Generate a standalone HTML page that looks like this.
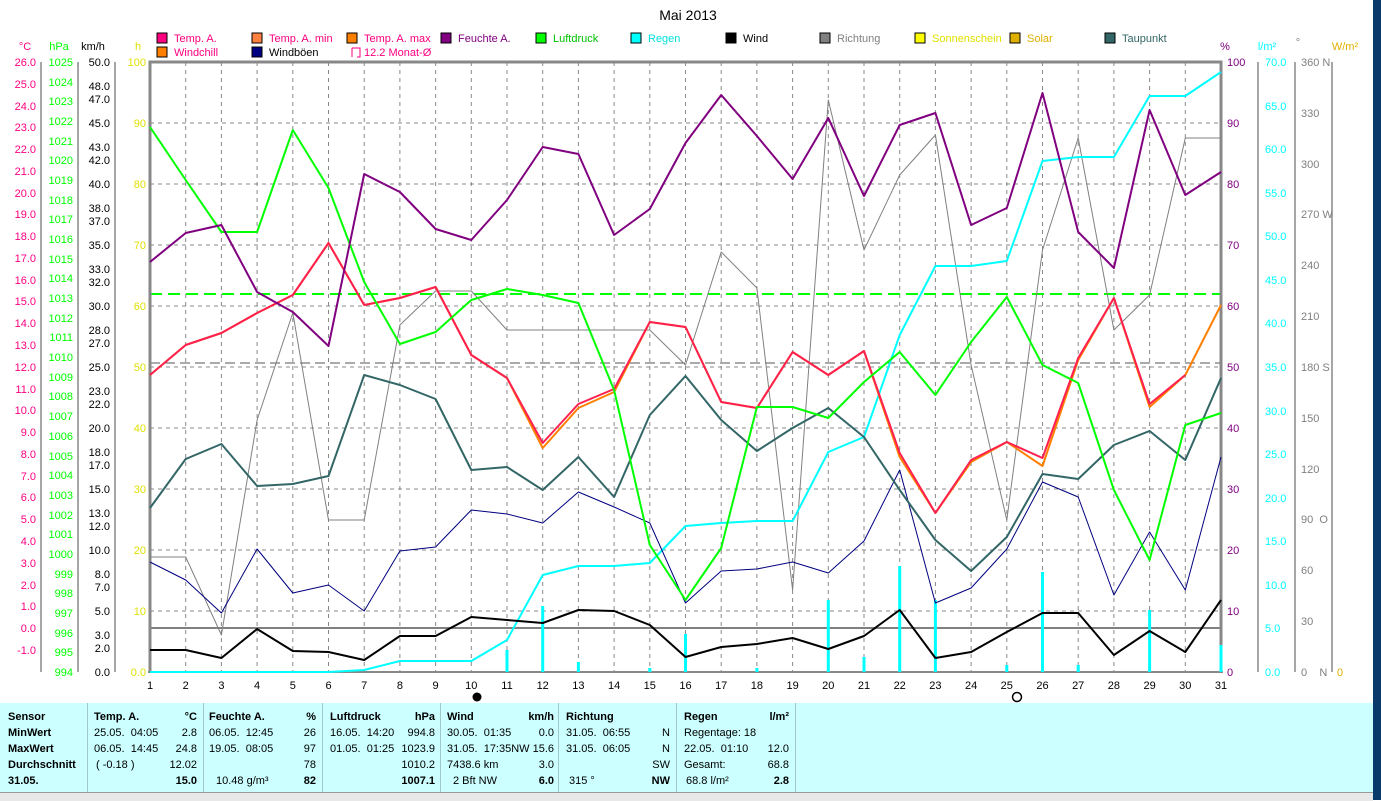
<!DOCTYPE html>
<html><head><meta charset="utf-8"><style>
html,body{margin:0;padding:0;background:#fff;}
body{width:1381px;height:800px;overflow:hidden;position:relative;font-family:"Liberation Sans",sans-serif;}
svg text{font-family:"Liberation Sans",sans-serif;font-size:11px;}
#panel{position:absolute;left:0;top:703px;width:1373px;height:89px;background:#ccffff;}
#panel .col{position:absolute;top:0;height:89px;border-right:1px solid #a0c8c8;font-size:11px;}
#panel .r{position:absolute;white-space:nowrap;}
.b{font-weight:bold;}
</style></head><body>
<svg width="1381" height="800" style="position:absolute;left:0;top:0">
<rect x="1373" y="0" width="8" height="800" fill="#0a3a6a"/>
<text x="688" y="20" text-anchor="middle" style="font-size:14px">Mai 2013</text>
<!-- legend -->
<g>
<rect x="157" y="33" width="10" height="10" fill="#ff0080" stroke="#000"/><text x="174" y="42" fill="#ff0080">Temp. A.</text>
<rect x="252" y="33" width="10" height="10" fill="#ff8040" stroke="#000"/><text x="269" y="42" fill="#ff0080">Temp. A. min</text>
<rect x="347" y="33" width="10" height="10" fill="#ff8000" stroke="#000"/><text x="364" y="42" fill="#ff0080">Temp. A. max</text>
<rect x="441" y="33" width="10" height="10" fill="#800080" stroke="#000"/><text x="458" y="42" fill="#800080">Feuchte A.</text>
<rect x="536" y="33" width="10" height="10" fill="#00ff00" stroke="#000"/><text x="553" y="42" fill="#00c000">Luftdruck</text>
<rect x="631" y="33" width="10" height="10" fill="#00ffff" stroke="#000"/><text x="648" y="42" fill="#00e0e0">Regen</text>
<rect x="726" y="33" width="10" height="10" fill="#000" stroke="#000"/><text x="743" y="42" fill="#000">Wind</text>
<rect x="820" y="33" width="10" height="10" fill="#808080" stroke="#000"/><text x="837" y="42" fill="#808080">Richtung</text>
<rect x="915" y="33" width="10" height="10" fill="#ffff00" stroke="#000"/><text x="932" y="42" fill="#e0e000">Sonnenschein</text>
<rect x="1010" y="33" width="10" height="10" fill="#e0b000" stroke="#000"/><text x="1027" y="42" fill="#e0b000">Solar</text>
<rect x="1105" y="33" width="10" height="10" fill="#336666" stroke="#000"/><text x="1122" y="42" fill="#336666">Taupunkt</text>
<rect x="157" y="47" width="10" height="10" fill="#ff8000" stroke="#000"/><text x="174" y="56" fill="#ff0080">Windchill</text>
<rect x="252" y="47" width="10" height="10" fill="#000080" stroke="#000"/><text x="269" y="56" fill="#000">Windböen</text>
<path d="M352 48 h8 v9 h-3 M352 48 v9" fill="none" stroke="#ff0080"/><text x="364" y="56" fill="#ff0080">12.2 Monat-Ø</text>
</g>
<!-- axis headers -->
<text x="25" y="50" text-anchor="middle" fill="#ff0080">°C</text>
<text x="59" y="50" text-anchor="middle" fill="#00ff00">hPa</text>
<text x="93" y="50" text-anchor="middle" fill="#000">km/h</text>
<text x="138" y="50" text-anchor="middle" fill="#e0e000">h</text>
<text x="1225" y="50" text-anchor="middle" fill="#800080">%</text>
<text x="1267" y="50" text-anchor="middle" fill="#00ffff">l/m²</text>
<text x="1298" y="46" text-anchor="middle" fill="#808080">°</text>
<text x="1345" y="50" text-anchor="middle" fill="#e0b000">W/m²</text>
<!-- grid -->
<g stroke="#888" stroke-dasharray="4,4" stroke-width="1">
<path d="M150 123H1221M150 184H1221M150 245H1221M150 306H1221M150 367H1221M150 428H1221M150 489H1221M150 550H1221M150 611H1221"/>
<path d="M185.7 62V672M221.4 62V672M257.1 62V672M292.8 62V672M328.5 62V672M364.2 62V672M399.9 62V672M435.6 62V672M471.3 62V672M507 62V672M542.7 62V672M578.4 62V672M614.1 62V672M649.8 62V672M685.5 62V672M721.2 62V672M756.9 62V672M792.6 62V672M828.3 62V672M864 62V672M899.7 62V672M935.4 62V672M971.1 62V672M1006.8 62V672M1042.5 62V672M1078.2 62V672M1113.9 62V672M1149.6 62V672M1185.3 62V672"/>
</g>
<line x1="150" y1="294" x2="1221" y2="294" stroke="#00ff00" stroke-width="2" stroke-dasharray="12,6"/>
<line x1="150" y1="363" x2="1221" y2="363" stroke="#555" stroke-width="1" stroke-dasharray="10,5"/>
<line x1="150" y1="628" x2="1221" y2="628" stroke="#808080" stroke-width="2"/>
<!-- frame -->
<path d="M150 672V62H1221V672" fill="none" stroke="#888" stroke-width="3"/>
<line x1="148" y1="672" x2="1223" y2="672" stroke="#888" stroke-width="2"/>
<!-- left axes -->
<g stroke="#888" stroke-width="1.5"><path d="M41 62V672M78 62V672M115 62V672M1258 62V672M1295 62V672M1332 62V672"/></g>
<!-- rain bars -->
<g stroke="#00ffff" stroke-width="3">
<path d="M507 672V650M542.7 672V606M578.4 672V662M649.8 672V668M685.5 672V634M756.9 672V668M828.3 672V600M864 672V657M899.7 672V566M935.4 672V600M1006.8 672V665M1042.5 672V572M1078.2 672V665M1149.6 672V610M1221 672V645"/>
</g>
<g fill="none" stroke-linejoin="round" transform="translate(150,0) scale(35.7,1)">
<polyline vector-effect="non-scaling-stroke" stroke="#808080" stroke-width="1" points="0,557 1,557 2,635 3,420 4,313 5,520 6,520 7,325 8,291 9,291 10,330 11,330 12,330 13,330 14,330 15,365 16,252 17,288 18,590 19,100 20,250 21,175 22,135 23,365 24,520 25,250 26,138 27,330 28,295 29,138 30,138"/>
<polyline vector-effect="non-scaling-stroke" stroke="#00ffff" stroke-width="2" points="0,672 5,672 6,670 7,661 8,661 9,661 10,640 11,575 12,566 13,566 14,563 15,526 16,523 17,521 18,521 19,452 20,437 21,335 22,266 23,266 24,261 25,161 26,157 27,157 28,96 29,96 30,72"/>
<polyline vector-effect="non-scaling-stroke" stroke="#000080" stroke-width="1" points="0,562 1,580 2,613 3,549 4,593 5,585 6,611 7,551 8,547 9,510 10,514 11,523 12,492 13,507 14,523 15,603 16,571 17,569 18,562 19,573 20,541 21,470 22,603 23,588 24,549 25,482 26,497 27,595 28,532 29,590 30,457"/>
<polyline vector-effect="non-scaling-stroke" stroke="#000" stroke-width="2" points="0,650 1,650 2,658 3,629 4,651 5,652 6,660 7,636 8,636 9,617 10,620 11,623 12,610 13,611 14,625 15,657 16,647 17,644 18,638 19,649 20,636 21,610 22,658 23,652 24,632 25,613 26,613 27,655 28,631 29,652 30,600"/>
<polyline vector-effect="non-scaling-stroke" stroke="#336666" stroke-width="2" points="0,508 1,459 2,444 3,486 4,484 5,476 6,375 7,385 8,399 9,470 10,467 11,490 12,457 13,497 14,415 15,376 16,420 17,451 18,428 19,408 20,437 21,490 22,540 23,571 24,537 25,474 26,479 27,445 28,431 29,460 30,378"/>
<polyline vector-effect="non-scaling-stroke" stroke="#ff8000" stroke-width="2" points="0,375 1,345 2,333 3,313 4,295 5,243 6,305 7,298 8,287 9,355 10,378 11,448 12,408 13,392 14,322 15,327 16,402 17,408 18,352 19,375 20,351 21,457 22,513 23,462 24,442 25,466 26,360 27,298 28,407 29,375 30,305"/>
<polyline vector-effect="non-scaling-stroke" stroke="#ff2050" stroke-width="2" points="0,375 1,345 2,333 3,313 4,295 5,243 6,305 7,298 8,287 9,355 10,378 11,443 12,404 13,389 14,322 15,327 16,402 17,408 18,352 19,375 20,351 21,453 22,513 23,460 24,442 25,458 26,358 27,298 28,404 29,375"/>
<polyline vector-effect="non-scaling-stroke" stroke="#00ff00" stroke-width="2" points="0,127 1,180 2,232 3,232 4,130 5,188 6,282 7,344 8,332 9,300 10,289 11,295 12,303 13,390 14,545 15,600 16,548 17,407 18,407 19,418 20,382 21,352 22,395 23,342 24,297 25,365 26,383 27,490 28,560 29,425 30,413"/>
<polyline vector-effect="non-scaling-stroke" stroke="#800080" stroke-width="2" points="0,262 1,233 2,225 3,292 4,312 5,346 6,174 7,192 8,229 9,240 10,200 11,147 12,154 13,235 14,209 15,143 16,95 17,136 18,179 19,118 20,196 21,125 22,113 23,225 24,208 25,93 26,232 27,268 28,110 29,195 30,172"/>
</g>
<!-- x labels -->
<g text-anchor="middle" fill="#000">
<text x="150" y="689">1</text><text x="185.7" y="689">2</text><text x="221.4" y="689">3</text><text x="257.1" y="689">4</text><text x="292.8" y="689">5</text><text x="328.5" y="689">6</text><text x="364.2" y="689">7</text><text x="399.9" y="689">8</text><text x="435.6" y="689">9</text><text x="471.3" y="689">10</text><text x="507" y="689">11</text><text x="542.7" y="689">12</text><text x="578.4" y="689">13</text><text x="614.1" y="689">14</text><text x="649.8" y="689">15</text><text x="685.5" y="689">16</text><text x="721.2" y="689">17</text><text x="756.9" y="689">18</text><text x="792.6" y="689">19</text><text x="828.3" y="689">20</text><text x="864" y="689">21</text><text x="899.7" y="689">22</text><text x="935.4" y="689">23</text><text x="971.1" y="689">24</text><text x="1006.8" y="689">25</text><text x="1042.5" y="689">26</text><text x="1078.2" y="689">27</text><text x="1113.9" y="689">28</text><text x="1149.6" y="689">29</text><text x="1185.3" y="689">30</text><text x="1221" y="689">31</text>
</g>
<circle cx="477" cy="697" r="4.5" fill="#000"/>
<circle cx="1017" cy="697" r="4.5" fill="none" stroke="#000" stroke-width="1.5"/>
<!-- °C -->
<g text-anchor="end" fill="#ff0080">
<text x="36" y="66">26.0</text><text x="36" y="88">25.0</text><text x="36" y="110">24.0</text><text x="36" y="131">23.0</text><text x="36" y="153">22.0</text><text x="36" y="175">21.0</text><text x="36" y="197">20.0</text><text x="36" y="218">19.0</text><text x="36" y="240">18.0</text><text x="36" y="262">17.0</text><text x="36" y="284">16.0</text><text x="36" y="305">15.0</text><text x="36" y="327">14.0</text><text x="36" y="349">13.0</text><text x="36" y="371">12.0</text><text x="36" y="393">11.0</text><text x="36" y="414">10.0</text><text x="36" y="436">9.0</text><text x="36" y="458">8.0</text><text x="36" y="480">7.0</text><text x="36" y="501">6.0</text><text x="36" y="523">5.0</text><text x="36" y="545">4.0</text><text x="36" y="567">3.0</text><text x="36" y="589">2.0</text><text x="36" y="610">1.0</text><text x="36" y="632">0.0</text><text x="36" y="654">-1.0</text>
</g>
<!-- hPa -->
<g text-anchor="end" fill="#00ff00">
<text x="73" y="66">1025</text><text x="73" y="86">1024</text><text x="73" y="105">1023</text><text x="73" y="125">1022</text><text x="73" y="145">1021</text><text x="73" y="164">1020</text><text x="73" y="184">1019</text><text x="73" y="204">1018</text><text x="73" y="223">1017</text><text x="73" y="243">1016</text><text x="73" y="263">1015</text><text x="73" y="282">1014</text><text x="73" y="302">1013</text><text x="73" y="322">1012</text><text x="73" y="341">1011</text><text x="73" y="361">1010</text><text x="73" y="381">1009</text><text x="73" y="400">1008</text><text x="73" y="420">1007</text><text x="73" y="440">1006</text><text x="73" y="460">1005</text><text x="73" y="479">1004</text><text x="73" y="499">1003</text><text x="73" y="519">1002</text><text x="73" y="538">1001</text><text x="73" y="558">1000</text><text x="73" y="578">999</text><text x="73" y="597">998</text><text x="73" y="617">997</text><text x="73" y="637">996</text><text x="73" y="656">995</text><text x="73" y="676">994</text>
</g>
<!-- km/h -->
<g text-anchor="end" fill="#000">
<text x="110" y="66">50.0</text><text x="110" y="90">48.0</text><text x="110" y="103">47.0</text><text x="110" y="127">45.0</text><text x="110" y="151">43.0</text><text x="110" y="164">42.0</text><text x="110" y="188">40.0</text><text x="110" y="212">38.0</text><text x="110" y="225">37.0</text><text x="110" y="249">35.0</text><text x="110" y="273">33.0</text><text x="110" y="286">32.0</text><text x="110" y="310">30.0</text><text x="110" y="334">28.0</text><text x="110" y="347">27.0</text><text x="110" y="371">25.0</text><text x="110" y="395">23.0</text><text x="110" y="408">22.0</text><text x="110" y="432">20.0</text><text x="110" y="456">18.0</text><text x="110" y="469">17.0</text><text x="110" y="493">15.0</text><text x="110" y="517">13.0</text><text x="110" y="530">12.0</text><text x="110" y="554">10.0</text><text x="110" y="578">8.0</text><text x="110" y="591">7.0</text><text x="110" y="615">5.0</text><text x="110" y="639">3.0</text><text x="110" y="652">2.0</text><text x="110" y="676">0.0</text>
</g>
<!-- h -->
<g text-anchor="end" fill="#e0e000">
<text x="146" y="66">100</text><text x="146" y="127">90</text><text x="146" y="188">80</text><text x="146" y="249">70</text><text x="146" y="310">60</text><text x="146" y="371">50</text><text x="146" y="432">40</text><text x="146" y="493">30</text><text x="146" y="554">20</text><text x="146" y="615">10</text><text x="146" y="676">0.0</text>
</g>
<!-- % -->
<g fill="#800080">
<text x="1227" y="66">100</text><text x="1227" y="127">90</text><text x="1227" y="188">80</text><text x="1227" y="249">70</text><text x="1227" y="310">60</text><text x="1227" y="371">50</text><text x="1227" y="432">40</text><text x="1227" y="493">30</text><text x="1227" y="554">20</text><text x="1227" y="615">10</text><text x="1227" y="676">0</text>
</g>
<!-- l/m2 -->
<g fill="#00ffff">
<text x="1265" y="66">70.0</text><text x="1265" y="110">65.0</text><text x="1265" y="153">60.0</text><text x="1265" y="197">55.0</text><text x="1265" y="240">50.0</text><text x="1265" y="284">45.0</text><text x="1265" y="327">40.0</text><text x="1265" y="371">35.0</text><text x="1265" y="415">30.0</text><text x="1265" y="458">25.0</text><text x="1265" y="502">20.0</text><text x="1265" y="545">15.0</text><text x="1265" y="589">10.0</text><text x="1265" y="632">5.0</text><text x="1265" y="676">0.0</text>
</g>
<!-- deg -->
<g fill="#808080">
<text x="1301" y="66">360 N</text><text x="1301" y="117">330</text><text x="1301" y="168">300</text><text x="1301" y="218">270 W</text><text x="1301" y="269">240</text><text x="1301" y="320">210</text><text x="1301" y="371">180 S</text><text x="1301" y="422">150</text><text x="1301" y="473">120</text><text x="1301" y="523">90&#160;&#160;O</text><text x="1301" y="574">60</text><text x="1301" y="625">30</text><text x="1301" y="676">0&#160;&#160;&#160;&#160;N</text>
</g>
<text x="1337" y="676" fill="#e0b000">0</text>
</svg>
<div id="panel">
 <div class="col" style="left:0;width:87px"><div class="r b" style="left:8px;top:8px">Sensor</div><div class="r b" style="left:8px;top:24px">MinWert</div><div class="r b" style="left:8px;top:40px">MaxWert</div><div class="r b" style="left:8px;top:56px">Durchschnitt</div><div class="r b" style="left:8px;top:72px">31.05.</div></div>
 <div class="col" style="left:88px;width:115px"><div class="r b" style="left:6px;top:8px">Temp. A.</div><div class="r b" style="right:6px;top:8px">°C</div><div class="r" style="left:6px;top:24px">25.05.&nbsp; 04:05</div><div class="r" style="right:6px;top:24px">2.8</div><div class="r" style="left:6px;top:40px">06.05.&nbsp; 14:45</div><div class="r" style="right:6px;top:40px">24.8</div><div class="r" style="left:8px;top:56px">( -0.18 )</div><div class="r" style="right:6px;top:56px">12.02</div><div class="r b" style="right:6px;top:72px">15.0</div></div>
 <div class="col" style="left:204px;width:118px"><div class="r b" style="left:5px;top:8px">Feuchte A.</div><div class="r b" style="right:6px;top:8px">%</div><div class="r" style="left:5px;top:24px">06.05.&nbsp; 12:45</div><div class="r" style="right:6px;top:24px">26</div><div class="r" style="left:5px;top:40px">19.05.&nbsp; 08:05</div><div class="r" style="right:6px;top:40px">97</div><div class="r" style="right:6px;top:56px">78</div><div class="r" style="left:12px;top:72px">10.48 g/m³</div><div class="r b" style="right:6px;top:72px">82</div></div>
 <div class="col" style="left:323px;width:117px"><div class="r b" style="left:7px;top:8px">Luftdruck</div><div class="r b" style="right:5px;top:8px">hPa</div><div class="r" style="left:7px;top:24px">16.05.&nbsp; 14:20</div><div class="r" style="right:5px;top:24px">994.8</div><div class="r" style="left:7px;top:40px">01.05.&nbsp; 01:25</div><div class="r" style="right:5px;top:40px">1023.9</div><div class="r" style="right:5px;top:56px">1010.2</div><div class="r b" style="right:5px;top:72px">1007.1</div></div>
 <div class="col" style="left:441px;width:117px"><div class="r b" style="left:6px;top:8px">Wind</div><div class="r b" style="right:4px;top:8px">km/h</div><div class="r" style="left:6px;top:24px">30.05.&nbsp; 01:35</div><div class="r" style="right:4px;top:24px">0.0</div><div class="r" style="left:6px;top:40px">31.05.&nbsp; 17:35NW</div><div class="r" style="right:4px;top:40px">15.6</div><div class="r" style="left:6px;top:56px">7438.6 km</div><div class="r" style="right:4px;top:56px">3.0</div><div class="r" style="left:12px;top:72px">2 Bft NW</div><div class="r b" style="right:4px;top:72px">6.0</div></div>
 <div class="col" style="left:559px;width:117px"><div class="r b" style="left:7px;top:8px">Richtung</div><div class="r" style="left:7px;top:24px">31.05.&nbsp; 06:55</div><div class="r" style="right:6px;top:24px">N</div><div class="r" style="left:7px;top:40px">31.05.&nbsp; 06:05</div><div class="r" style="right:6px;top:40px">N</div><div class="r" style="right:6px;top:56px">SW</div><div class="r" style="left:10px;top:72px">315 °</div><div class="r b" style="right:6px;top:72px">NW</div></div>
 <div class="col" style="left:677px;width:118px"><div class="r b" style="left:7px;top:8px">Regen</div><div class="r b" style="right:6px;top:8px">l/m²</div><div class="r" style="left:7px;top:24px">Regentage: 18</div><div class="r" style="left:7px;top:40px">22.05.&nbsp; 01:10</div><div class="r" style="right:6px;top:40px">12.0</div><div class="r" style="left:7px;top:56px">Gesamt:</div><div class="r" style="right:6px;top:56px">68.8</div><div class="r" style="left:9px;top:72px">68.8 l/m²</div><div class="r b" style="right:6px;top:72px">2.8</div></div>
</div>
<div style="position:absolute;left:0;top:792px;width:1373px;height:8px;background:#e8e8e8;border-top:1px solid #999"></div>
</body></html>
